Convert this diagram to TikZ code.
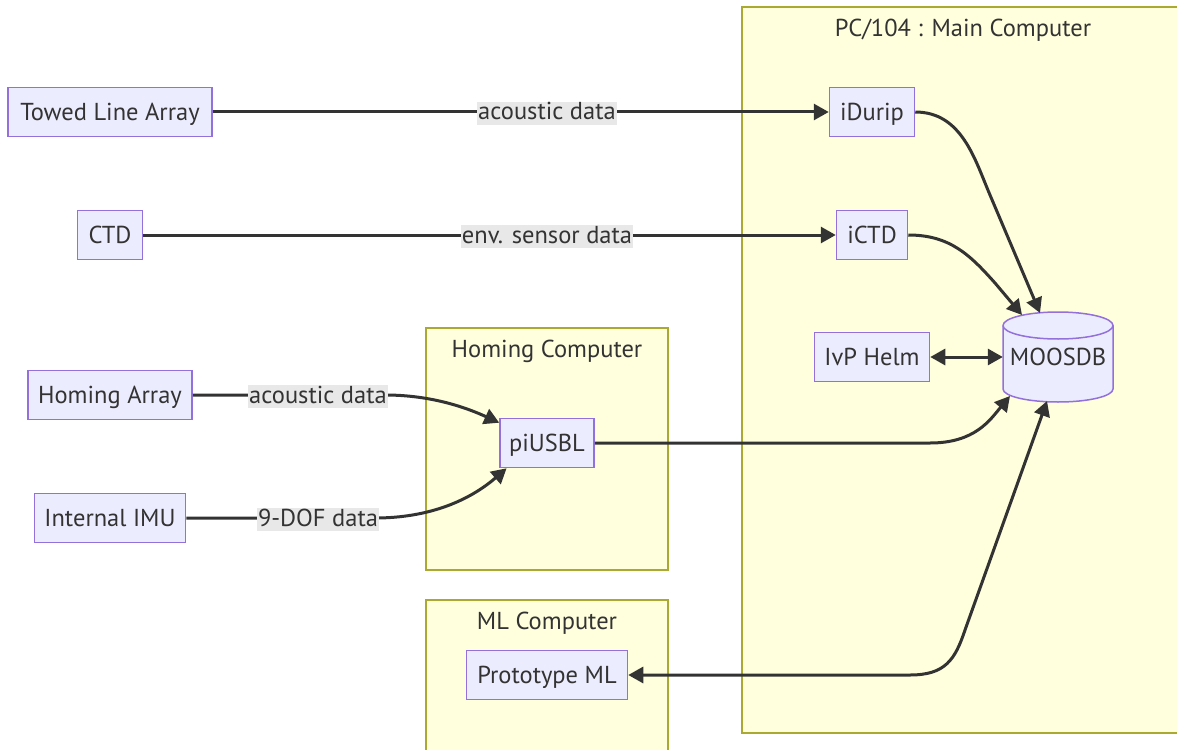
\documentclass[tikz,border=0pt]{standalone}
\usepackage{fontspec}
\setmainfont{PT Sans}
\usetikzlibrary{arrows.meta}
\definecolor{nodefill}{HTML}{ECECFF}
\definecolor{nodeline}{HTML}{9370DB}
\definecolor{groupfill}{HTML}{FFFFDE}
\definecolor{groupline}{HTML}{AAAA33}
\definecolor{ink}{HTML}{333333}
\definecolor{labelbg}{HTML}{E8E8E8}
\tikzset{
  txt/.style={font=\fontsize{24.5}{29}\selectfont, text=ink, text height=17pt, text depth=0pt},
  proc/.style={txt, draw=nodeline, fill=nodefill, line width=1.5pt, inner sep=0pt, minimum height=49pt},
  group/.style={draw=groupline, fill=groupfill, line width=1.5pt},
  tip/.tip={Triangle[length=15pt,width=16pt]},
  link/.style={draw=ink, line width=3pt, -tip},
  duallink/.style={draw=ink, line width=3pt, tip-tip},
  elabel/.style={txt, text depth=4pt, fill=labelbg, inner sep=1pt, yshift=-1.5pt}
}
\begin{document}
\begin{tikzpicture}[x=1pt,y=-1pt]
\useasboundingbox (0,0) rectangle (1177,749);

% subgraph frames
\draw[group] (742,7) rectangle (1190,733);
\draw[group] (426,328) rectangle (668,570);
\draw[group] (426,600) rectangle (668,760);
\node[txt] (tmain) at (963,28) {PC/104 : Main Computer};
\node[txt] (thome) at (547,349) {Homing Computer};
\node[txt] (tml) at (547,621) {ML Computer};

% sensors
\node[proc, minimum width=204pt] (tla) at (110,112) {Towed Line Array};
\node[proc, minimum width=65pt] (ctd) at (110,235) {CTD};
\node[proc, minimum width=164pt] (harr) at (110,395) {Homing Array};
\node[proc, minimum width=151pt] (imu) at (110,518) {Internal IMU};

% main computer processes
\node[proc, minimum width=85pt] (idurip) at (872,112) {iDurip};
\node[proc, minimum width=71pt] (ictd) at (872,235) {iCTD};
\node[proc, minimum width=115pt] (ivp) at (872,357) {IvP Helm};

% MOOSDB cylinder
\path[fill=nodefill, draw=nodeline, line width=1.5pt]
  (1003,325.5) -- (1003,389) arc[start angle=180, end angle=360, x radius=55pt, y radius=13pt]
  -- (1113,325.5) arc[start angle=0, end angle=180, x radius=55pt, y radius=13.5pt] -- cycle;
\draw[nodeline, line width=1.5pt]
  (1003,325.5) arc[start angle=180, end angle=360, x radius=55pt, y radius=13.5pt];
\node[txt, minimum width=110pt, minimum height=90pt, inner sep=0pt] (moosdb) at (1058,357) {MOOSDB};
\coordinate (dbA) at (1040,313);
\coordinate (dbB) at (1022,315);
\coordinate (dbC) at (1010,396);
\coordinate (dbD) at (1047,401);

% other computers
\node[proc, minimum width=94pt] (piusbl) at (547,443) {piUSBL};
\node[proc, minimum width=161pt] (protoml) at (547,675) {Prototype ML};

% connectors
\draw[link] (tla.east) -- (idurip.west);
\node[elabel] (l1) at (547,112) {acoustic data};
\draw[link] (ctd.east) -- (ictd.west);
\node[elabel] (l2) at (547,235) {env. sensor data};

\draw[link] (harr.east) -- (385,395) .. controls (430,395) and (465,407) .. (piusbl.157);
\node[elabel] (l3) at (318,395) {acoustic data};
\draw[link] (imu.east) -- (375,518) .. controls (430,518) and (470,500) .. (piusbl.212);
\node[elabel] (l4) at (318,518) {9-DOF data};

\draw[link] (idurip.east) .. controls (962,112) and (975,160) .. (990,195) -- (dbA);
\draw[link] (ictd.east) .. controls (950,235) and (970,255) .. (995,283) -- (dbB);
\draw[duallink] (ivp.east) -- (moosdb.west);
\draw[link] (piusbl.east) -- (930,443) .. controls (975,443) and (990,420) .. (dbC);
\draw[duallink] (protoml.east) -- (910,675) .. controls (945,675) and (955,660) .. (965,630) -- (dbD);
\end{tikzpicture}
\end{document}
